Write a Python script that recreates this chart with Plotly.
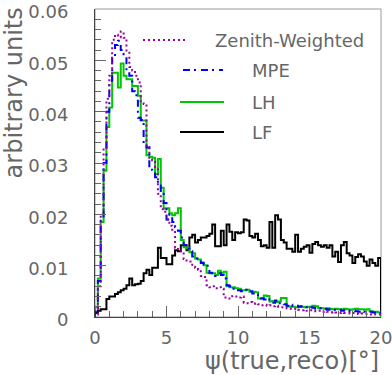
import plotly.graph_objects as go

# ---------------------------------------------------------------
# Data: 100 bins of width 0.2 deg between 0 and 20
# ---------------------------------------------------------------
X_MIN, X_MAX, N_BINS = 0.0, 20.0, 100

ZENITH_WEIGHTED = [
    0.0005, 0.0060, 0.0200, 0.0330, 0.0425, 0.0470, 0.0540, 0.0550, 0.0545, 0.0556,
    0.0544, 0.0515, 0.0487, 0.0480, 0.0470, 0.0457, 0.0418, 0.0415, 0.0331, 0.0310,
    0.0305, 0.0290, 0.0240, 0.0210, 0.0205, 0.0190, 0.0178, 0.0170, 0.0135, 0.0130,
    0.0128, 0.0113, 0.0110, 0.0108, 0.0098, 0.0096, 0.0092, 0.0080, 0.0078, 0.0062,
    0.0058, 0.0060, 0.0056, 0.0058, 0.0055, 0.0038, 0.0036, 0.0038, 0.0041, 0.0040,
    0.0038, 0.0040, 0.0028, 0.0027, 0.0029, 0.0026, 0.0027, 0.0025, 0.0023, 0.0024,
    0.0022, 0.0023, 0.0021, 0.0022, 0.0020, 0.0019, 0.0018, 0.0017, 0.0016, 0.0015,
    0.0016, 0.0014, 0.0013, 0.0014, 0.0012, 0.0013, 0.0012, 0.0011, 0.0012, 0.0010,
    0.0011, 0.0010, 0.0009, 0.0010, 0.0009, 0.0008, 0.0009, 0.0008, 0.0008, 0.0007,
    0.0008, 0.0007, 0.0006, 0.0007, 0.0006, 0.0006, 0.0005, 0.0006, 0.0005, 0.0005,
]

MPE = [
    0.0010, 0.0070, 0.0190, 0.0300, 0.0400, 0.0460, 0.0505, 0.0530, 0.0538, 0.0520,
    0.0512, 0.0480, 0.0470, 0.0440, 0.0432, 0.0388, 0.0384, 0.0334, 0.0330, 0.0287,
    0.0282, 0.0272, 0.0256, 0.0240, 0.0222, 0.0190, 0.0200, 0.0185, 0.0175, 0.0168,
    0.0155, 0.0140, 0.0133, 0.0128, 0.0118, 0.0114, 0.0110, 0.0105, 0.0103, 0.0100,
    0.0086, 0.0085, 0.0080, 0.0085, 0.0082, 0.0075, 0.0062, 0.0060, 0.0055, 0.0056,
    0.0052, 0.0050, 0.0053, 0.0049, 0.0050, 0.0046, 0.0044, 0.0040, 0.0036, 0.0034,
    0.0036, 0.0030, 0.0028, 0.0032, 0.0027, 0.0028, 0.0025, 0.0022, 0.0024, 0.0021,
    0.0022, 0.0020, 0.0021, 0.0019, 0.0017, 0.0019, 0.0018, 0.0016, 0.0017, 0.0015,
    0.0016, 0.0014, 0.0015, 0.0014, 0.0013, 0.0014, 0.0012, 0.0013, 0.0012, 0.0011,
    0.0012, 0.0011, 0.0010, 0.0011, 0.0010, 0.0009, 0.0010, 0.0009, 0.0008, 0.0008,
]

LH = [
    0.0020, 0.0075, 0.0185, 0.0285, 0.0370, 0.0408, 0.0476, 0.0476, 0.0447, 0.0494,
    0.0470, 0.0463, 0.0463, 0.0450, 0.0450, 0.0431, 0.0383, 0.0383, 0.0315, 0.0312,
    0.0310, 0.0278, 0.0308, 0.0252, 0.0212, 0.0212, 0.0202, 0.0198, 0.0202, 0.0212,
    0.0150, 0.0136, 0.0134, 0.0126, 0.0124, 0.0114, 0.0112, 0.0106, 0.0101, 0.0086,
    0.0085, 0.0085, 0.0082, 0.0090, 0.0086, 0.0088, 0.0060, 0.0058, 0.0058, 0.0056,
    0.0055, 0.0052, 0.0052, 0.0053, 0.0049, 0.0049, 0.0048, 0.0036, 0.0037, 0.0042,
    0.0041, 0.0030, 0.0031, 0.0029, 0.0030, 0.0037, 0.0037, 0.0021, 0.0020, 0.0020,
    0.0019, 0.0021, 0.0020, 0.0019, 0.0020, 0.0020, 0.0022, 0.0021, 0.0017, 0.0017,
    0.0016, 0.0017, 0.0016, 0.0015, 0.0016, 0.0015, 0.0015, 0.0016, 0.0015, 0.0014,
    0.0015, 0.0016, 0.0015, 0.0015, 0.0014, 0.0015, 0.0011, 0.0010, 0.0010, 0.0009,
]

LF = [
    0.0008, 0.0012, 0.0015, 0.0015, 0.0035, 0.0040, 0.0040, 0.0045, 0.0048, 0.0052,
    0.0055, 0.0062, 0.0075, 0.0062, 0.0064, 0.0065, 0.0070, 0.0085, 0.0092, 0.0082,
    0.0096, 0.0096, 0.0135, 0.0115, 0.0115, 0.0103, 0.0103, 0.0120, 0.0130, 0.0128,
    0.0140, 0.0140, 0.0130, 0.0155, 0.0160, 0.0145, 0.0150, 0.0155, 0.0155, 0.0158,
    0.0162, 0.0180, 0.0138, 0.0138, 0.0168, 0.0140, 0.0180, 0.0166, 0.0150, 0.0165,
    0.0163, 0.0165, 0.0190, 0.0188, 0.0158, 0.0155, 0.0162, 0.0150, 0.0138, 0.0140,
    0.0135, 0.0185, 0.0135, 0.0198, 0.0190, 0.0150, 0.0145, 0.0133, 0.0133, 0.0127,
    0.0160, 0.0127, 0.0133, 0.0137, 0.0140, 0.0125, 0.0142, 0.0146, 0.0140, 0.0137,
    0.0140, 0.0135, 0.0140, 0.0118, 0.0127, 0.0107, 0.0140, 0.0146, 0.0124, 0.0120,
    0.0105, 0.0117, 0.0122, 0.0118, 0.0108, 0.0100, 0.0112, 0.0105, 0.0100, 0.0115,
]

X_TICKS = [0, 5, 10, 15, 20]
Y_TICKS = [0, 0.01, 0.02, 0.03, 0.04, 0.05, 0.06]
Y_TICK_TEXT = ["0", "0.01", "0.02", "0.03", "0.04", "0.05", "0.06"]

# ---------------------------------------------------------------
# Style
# ---------------------------------------------------------------
FONT = "DejaVu Sans"
TEXT_GREY = "#666666"
AXIS_COLOR = "#444444"

SERIES = [
    # name, values, color, width, dash
    ("LF", LF, "#000000", 2, "solid"),
    ("LH", LH, "#00c800", 2, "solid"),
    ("MPE", MPE, "#0000ff", 2, "7px,4px,2px,5px"),
    ("Zenith-Weighted", ZENITH_WEIGHTED, "#990099", 2, "2px,3px"),
]

bin_w = (X_MAX - X_MIN) / N_BINS
low_edges = [X_MIN + i * bin_w for i in range(N_BINS)]


def hist_outline(values):
    """Step outline closed to zero at both ends, like ROOT's hist drawing."""
    xs = [X_MIN] + low_edges + [X_MAX, X_MAX]
    ys = [0.0] + list(values) + [values[-1], 0.0]
    return xs, ys


fig = go.Figure()
for name, vals, color, width, dash in SERIES:
    xs, ys = hist_outline(vals)
    fig.add_trace(go.Scatter(
        x=xs, y=ys, mode="lines", name=name,
        line=dict(color=color, width=width, dash=dash, shape="hv"),
        showlegend=False,
    ))

# ---------------------------------------------------------------
# Hand-made legend (ROOT TLegend look), paper coordinates
# ---------------------------------------------------------------
L, R, T, B = 95, 381, 9, 317   # plot area in pixels


def px(x):
    return (x - L) / (R - L)


def py(y):
    return (B - y) / (B - T)


legend_rows = [
    # label, color, dash, line x0, line x1, text x, y
    ("Zenith-Weighted", "#990099", "2px,3px", 143, 188, 213, 40),
    ("MPE", "#0000ff", "7px,4px,2px,5px", 183, 223, 250, 70),
    ("LH", "#00c800", "solid", 180, 224, 250, 102),
    ("LF", "#000000", "solid", 180, 224, 250, 132),
]
for label, color, dash, x0, x1, tx, y in legend_rows:
    fig.add_shape(type="line", xref="paper", yref="paper",
                  x0=px(x0), x1=px(x1), y0=py(y), y1=py(y),
                  line=dict(color=color, width=2, dash=dash))
    fig.add_annotation(text=label, xref="paper", yref="paper",
                       x=px(tx), y=py(y), xanchor="left", yanchor="middle",
                       showarrow=False, font=dict(family=FONT, size=18, color=TEXT_GREY))

# frame (top/right are lighter in the original)
fig.add_shape(type="rect", xref="paper", yref="paper", x0=0, x1=1, y0=0, y1=1,
              line=dict(color="#999999", width=1), layer="below")

# axis titles
fig.add_annotation(text="\u03c8(true,reco)[\u00b0]", xref="paper", yref="paper",
                   x=1, y=py(361), xanchor="right", yanchor="middle", showarrow=False,
                   font=dict(family=FONT, size=24, color=TEXT_GREY))
fig.add_annotation(text="arbitrary units", xref="paper", yref="paper",
                   x=px(14), y=1.01, xanchor="center", yanchor="top", textangle=-90,
                   showarrow=False, font=dict(family=FONT, size=24, color=TEXT_GREY))

fig.update_xaxes(
    range=[X_MIN, X_MAX], showgrid=False, zeroline=False, automargin=False,
    showline=True, linecolor=AXIS_COLOR, linewidth=1,
    ticks="inside", ticklen=11, tickcolor="#666666", tickwidth=1,
    tickvals=X_TICKS, ticklabeloverflow="allow",
    minor=dict(dtick=1, ticks="inside", ticklen=6, tickcolor="#666666", showgrid=False),
    tickfont=dict(family=FONT, size=18, color=TEXT_GREY),
    ticklabelstandoff=4,
)
fig.update_yaxes(
    range=[0, 0.06], showgrid=False, zeroline=False, automargin=False,
    showline=True, linecolor=AXIS_COLOR, linewidth=1,
    ticks="inside", ticklen=11, tickcolor="#666666", tickwidth=1,
    tickvals=Y_TICKS, ticktext=Y_TICK_TEXT, ticklabeloverflow="allow",
    minor=dict(dtick=0.002, tick0=0, ticks="inside", ticklen=6, tickcolor="#666666",
               showgrid=False),
    tickfont=dict(family=FONT, size=18, color=TEXT_GREY),
    ticklabelstandoff=22, ticklabelshift=3,
)

fig.update_layout(
    width=392, height=375,
    margin=dict(l=L, r=392 - R, t=T, b=375 - B, pad=0, autoexpand=False),
    plot_bgcolor="white", paper_bgcolor="white",
    showlegend=False,
)

# the page's default body margin would shift the figure by 8px
fig.write_html("out.html", config={"displayModeBar": False},
               post_script="document.body.style.margin='0';")
